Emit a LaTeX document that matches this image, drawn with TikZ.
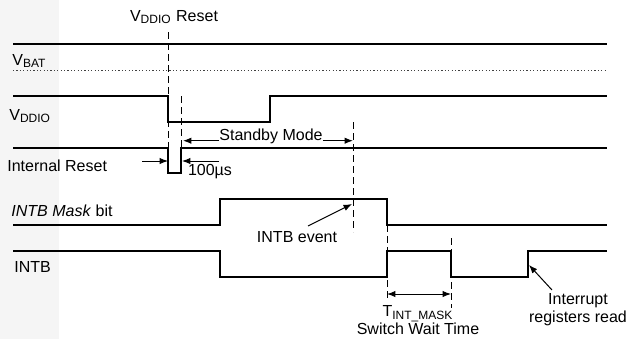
\documentclass[tikz,border=0pt]{standalone}
\usepackage{fontspec}
\setmainfont{Liberation Sans}
\usepackage{tikz}
\usetikzlibrary{arrows.meta}
\definecolor{bandgray}{gray}{0.96}

\begin{document}
\begin{tikzpicture}[x=5pt,y=-5pt,
    font=\fontsize{8}{9}\selectfont,
    wave/.style={black, line width=1pt},
    guide/.style={black, line width=0.5pt, dash pattern=on 3.5pt off 2pt},
    pointer/.style={black, line width=0.5pt, -{Latex[length=4.2pt,width=3.2pt]}},
    lbl/.style={inner sep=0pt, anchor=west},
    txt/.style={inner sep=0pt, align=center}]
    \useasboundingbox (0,0) rectangle (63.1,33.9);
    \fill[bandgray] (0,0) rectangle (5.9,33.9);
    % traces
    \draw[wave] (1.3,4.4) -- (60.7,4.4);
    \draw[black!75, line width=0.4pt, dash pattern=on 0.6pt off 1.1pt] (1.3,7.0) -- (60.7,7.0);
    \draw[wave] (1.3,9.6) -- (16.8,9.6) -- (16.8,12.2) -- (27.0,12.2) -- (27.0,9.6) -- (60.7,9.6);
    \draw[wave] (1.3,14.8) -- (16.8,14.8) -- (16.8,17.3) -- (18.1,17.3) -- (18.1,14.8) -- (60.7,14.8);
    \draw[wave] (1.3,22.5) -- (22.0,22.5) -- (22.0,19.9) -- (38.7,19.9) -- (38.7,22.5) -- (60.7,22.5);
    \draw[wave] (1.3,25.1) -- (22.0,25.1) -- (22.0,27.7) -- (38.7,27.7) -- (38.7,25.1) -- (45.1,25.1)
        -- (45.1,27.7) -- (52.8,27.7) -- (52.8,25.1) -- (60.7,25.1);
    % signal names
    \node[lbl] (vbat) at (1.2,6.1) {V\textsubscript{BAT}};
    \node[lbl] (vddio) at (0.9,11.6) {V\textsubscript{DDIO}};
    \node[lbl] (intrst) at (0.7,16.6) {Internal Reset};
    \node[lbl] (maskbit) at (1.1,21.1) {\textit{INTB Mask} bit};
    \node[lbl] (intb) at (1.4,26.7) {INTB};
    % guide lines
    \coordinate (rstTop) at (16.8,3.2);
    \coordinate (rstBot) at (16.8,14.8);
    \coordinate (sbTop) at (18.1,9.6);
    \coordinate (sbBot) at (18.1,14.8);
    \coordinate (evTop) at (35.3,12.2);
    \coordinate (evBot) at (35.3,23.2);
    \coordinate (tmTop) at (38.7,22.5);
    \coordinate (tmBot) at (38.7,30.0);
    \coordinate (twTop) at (45.1,23.8);
    \coordinate (twBot) at (45.1,30.8);
    \draw[guide] (rstTop) -- (rstBot);
    \draw[guide] (sbTop) -- (sbBot);
    \draw[guide] (evTop) -- (evBot);
    \draw[guide] (tmTop) -- (tmBot);
    \draw[guide] (twTop) -- (twBot);
    % annotations
    \node[txt] (rstlbl) at (17.4,1.7) {V\textsubscript{DDIO} Reset};
    \node[txt] (standby) at (27.1,13.6) {Standby Mode};
    \coordinate (sbL) at (18.3,14.07);
    \coordinate (sbR) at (35.3,14.07);
    \draw[pointer] (standby.west |- sbL) -- (sbL);
    \draw[pointer] (standby.east |- sbR) -- (sbR);
    \node[txt] (us) at (21.0,17.2) {100µs};
    \coordinate (usA) at (14.2,16.1);
    \coordinate (usL) at (16.8,16.1);
    \coordinate (usB) at (21.9,16.1);
    \coordinate (usR) at (18.2,16.1);
    \draw[pointer] (usA) -- (usL);
    \draw[pointer] (usB) -- (usR);
    \node[txt] (evt) at (29.7,23.7) {INTB event};
    \coordinate (evTail) at (30.8,22.6);
    \coordinate (evTip) at (35.2,20.4);
    \draw[pointer] (evTail) -- (evTip);
    \coordinate (tmL) at (38.7,29.4);
    \coordinate (tmR) at (45.1,29.4);
    \draw[pointer, {Latex[length=4.2pt,width=3.2pt]}-{Latex[length=4.2pt,width=3.2pt]}] (tmL) -- (tmR);
    \node[txt] (tmask) at (41.8,31.4) {T\textsubscript{INT\_MASK}};
    \node[txt] (twait) at (41.8,32.9) {Switch Wait Time};
    \node[txt] (irqrd) at (57.8,31.0) {Interrupt\\registers read};
    \coordinate (irTail) at (55.2,29.0);
    \coordinate (irTip) at (52.9,26.5);
    \draw[pointer] (irTail) -- (irTip);
\end{tikzpicture}
\end{document}
